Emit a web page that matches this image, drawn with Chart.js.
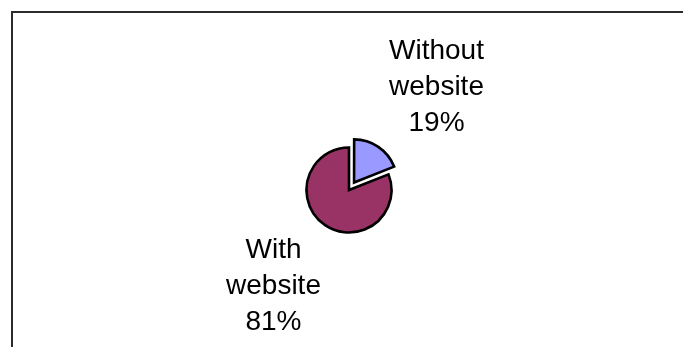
<!DOCTYPE html>
<html>
<head>
<meta charset="utf-8">
<title>Website share</title>
<script src="https://cdn.jsdelivr.net/npm/chart.js@4/dist/chart.umd.min.js"></script>
<style>
  html, body { margin: 0; padding: 0; background: #fff; }
  #wrap { width: 683px; height: 347px; position: relative; }
</style>
</head>
<body>
<div id="wrap"><canvas id="shareChart" width="683" height="347"></canvas></div>
<script>
// share of businesses with and without a website
const categories = ['Without website', 'With website'];
const shares = [19, 81];
const sliceColors = ['#9999FF', '#993366'];

// frame line along the top and left edges
const framePlugin = {
    id: 'frame',
    beforeDraw(chart) {
        const ctx = chart.ctx;
        ctx.save();
        ctx.strokeStyle = '#2b2b2b';
        ctx.lineWidth = 2;
        ctx.beginPath();
        ctx.moveTo(12, chart.height);
        ctx.lineTo(12, 12);
        ctx.lineTo(chart.width, 12);
        ctx.stroke();
        ctx.restore();
    }
};

// category name and percentage written outside each slice
const sliceLabels = {
    id: 'sliceLabels',
    afterDatasetsDraw(chart, args, opts) {
        const ctx = chart.ctx;
        const meta = chart.getDatasetMeta(0);
        const data = chart.data.datasets[0].data;
        ctx.save();
        ctx.fillStyle = '#000';
        ctx.font = opts.font;
        ctx.textAlign = 'center';
        ctx.textBaseline = 'middle';
        meta.data.forEach((arc, i) => {
            const mid = (arc.startAngle + arc.endAngle) / 2;
            const cx = arc.x + Math.cos(mid) * opts.rx + opts.dx;
            const cy = arc.y + Math.sin(mid) * opts.ry + opts.dy;
            const words = chart.data.labels[i].split(' ');
            const lines = [...words, data[i] + '%'];
            const top = cy - (lines.length - 1) * opts.lineHeight / 2;
            lines.forEach((t, k) => ctx.fillText(t, cx, top + k * opts.lineHeight));
        });
        ctx.restore();
    }
};

new Chart(document.getElementById('shareChart'), {
    type: 'pie',
    data: {
        labels: categories,
        datasets: [{
            data: shares,
            backgroundColor: sliceColors,
            borderColor: '#000',
            borderWidth: 2.6,
            borderJoinStyle: 'miter',
            // arc offset is drawn at a quarter of this value
            offset: [36, 0],
            radius: 42.5
        }]
    },
    options: {
        responsive: false,
        animation: false,
        events: [],
        layout: { padding: { left: 15, right: 0, top: 33, bottom: 0 } },
        plugins: {
            legend: { display: false },
            tooltip: { enabled: false },
            sliceLabels: {
                font: '28px "Liberation Sans", Arial, sans-serif',
                rx: 145, ry: 120, dx: 6, dy: -3, lineHeight: 36
            }
        }
    },
    plugins: [framePlugin, sliceLabels]
});
</script>
</body>
</html>
